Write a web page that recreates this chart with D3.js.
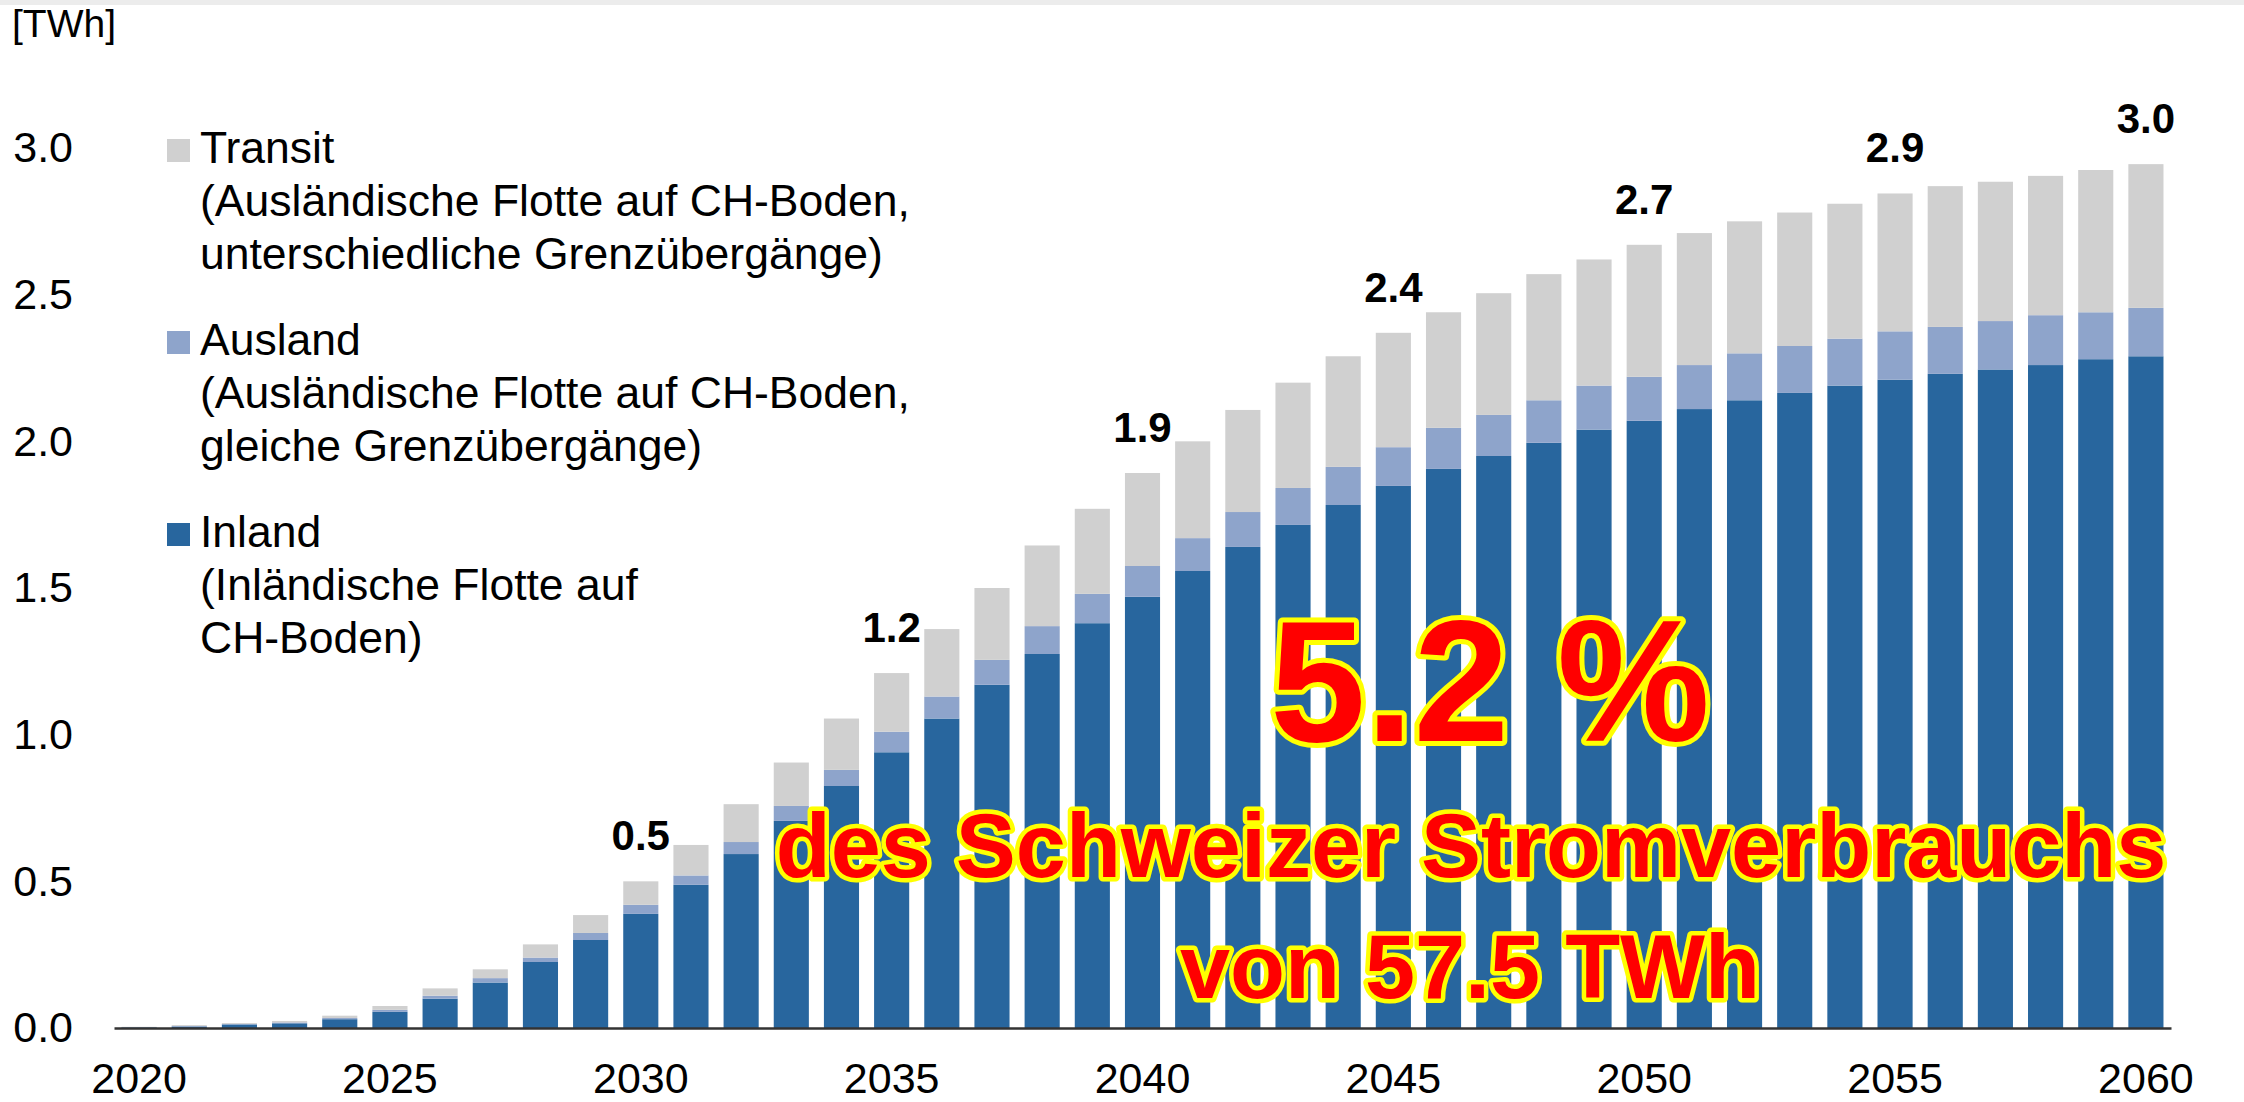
<html>
  <head>
    <meta charset="utf-8" />
    <script src="https://d3js.org/d3.v7.min.js"></script>
  </head>
  <style>
    body {
      margin: 0;
      background: #ffffff;
    }
    svg {
      display: block;
      font-family: "Liberation Sans", Arial, sans-serif;
    }
    .axis path.domain {
      stroke: #333333;
      stroke-width: 2.5;
    }
    .axis text {
      font-size: 43px;
      fill: #000000;
    }
    .big {
      fill: #ff0000;
      stroke: #ffff00;
      stroke-linejoin: round;
      paint-order: stroke;
      font-weight: bold;
      text-anchor: middle;
    }
  </style>
  <body>
    <svg id="chart" width="2244" height="1102"></svg>
    <script>
      // Werte in TWh
      const years = d3.range(2020, 2061);
      const inland = [
        0.002, 0.005, 0.012, 0.016, 0.03, 0.055, 0.1, 0.155, 0.225, 0.3,
        0.389, 0.488, 0.593, 0.706, 0.825, 0.94, 1.055, 1.17, 1.275, 1.38,
        1.47, 1.558, 1.64, 1.715, 1.783, 1.848, 1.906, 1.95, 1.995, 2.04,
        2.07, 2.11, 2.14, 2.165, 2.19, 2.21, 2.23, 2.245, 2.26, 2.28, 2.29
      ];
      const ausland = [
        0.001, 0.002, 0.002, 0.003, 0.004, 0.007, 0.01, 0.015, 0.015, 0.024,
        0.031, 0.032, 0.041, 0.051, 0.055, 0.07, 0.075, 0.085, 0.095, 0.1,
        0.105, 0.112, 0.119, 0.126, 0.13, 0.132, 0.14, 0.14, 0.145, 0.15,
        0.15, 0.15, 0.16, 0.16, 0.16, 0.165, 0.16, 0.165, 0.17, 0.16, 0.165
      ];
      const transit = [
        0.001, 0.003, 0.003, 0.005, 0.008, 0.013, 0.025, 0.03, 0.045, 0.061,
        0.08, 0.104, 0.129, 0.148, 0.175, 0.2, 0.23, 0.245, 0.275, 0.29,
        0.317, 0.33, 0.348, 0.359, 0.377, 0.39, 0.394, 0.415, 0.43, 0.43,
        0.45, 0.45, 0.45, 0.455, 0.46, 0.47, 0.48, 0.475, 0.475, 0.485, 0.49
      ];
      const seriesKeys = ["inland", "ausland", "transit"];
      const seriesColors = ["#28669e", "#8ea4cb", "#d0d0d0"];
      const labelYears = [2030, 2035, 2040, 2045, 2050, 2055, 2060];
      const labelTexts = ["0.5", "1.2", "1.9", "2.4", "2.7", "2.9", "3.0"];
      const xTicks = [2020, 2025, 2030, 2035, 2040, 2045, 2050, 2055, 2060];
      const yTicks = [0, 0.5, 1, 1.5, 2, 2.5, 3];
      const legendItems = [
        ["Transit", "(Ausländische Flotte auf CH-Boden,", "unterschiedliche Grenzübergänge)"],
        ["Ausland", "(Ausländische Flotte auf CH-Boden,", "gleiche Grenzübergänge)"],
        ["Inland", "(Inländische Flotte auf", "CH-Boden)"]
      ];
      const legendColors = ["#d0d0d0", "#8ea4cb", "#28669e"];

      const rows = years.map((y, i) => ({
        year: y,
        inland: inland[i],
        ausland: ausland[i],
        transit: transit[i]
      }));

      const svg = d3.select("#chart");

      // grauer Streifen oben
      svg.append("rect").attr("x", 0).attr("y", 0)
        .attr("width", 2244).attr("height", 5).attr("fill", "#ececec");

      const xScale = d3.scaleBand().domain(years).range([114, 2171])
        .paddingInner(0.3).paddingOuter(0.15);
      const yScale = d3.scaleLinear().domain([0, 3]).range([1028, 148]);

      // gestapelte Balken
      const stacked = d3.stack().keys(seriesKeys)(rows);
      svg.append("g")
        .selectAll("g")
        .data(stacked)
        .enter()
        .append("g")
        .attr("fill", (d, i) => seriesColors[i])
        .selectAll("rect")
        .data((d) => d)
        .enter()
        .append("rect")
        .attr("x", (d) => xScale(d.data.year))
        .attr("width", xScale.bandwidth())
        .attr("y", (d) => yScale(d[1]))
        .attr("height", (d) => yScale(d[0]) - yScale(d[1]));

      // x-Achse
      const xAxis = d3.axisBottom(xScale).tickValues(xTicks)
        .tickSize(0).tickSizeOuter(0).tickPadding(34);
      svg.append("g").attr("class", "axis")
        .attr("transform", "translate(0,1028)")
        .call(xAxis);

      // y-Achse
      const yAxis = d3.axisLeft(yScale).tickValues(yTicks)
        .tickFormat(d3.format(".1f")).tickSize(0).tickPadding(7);
      svg.append("g").attr("class", "axis")
        .attr("transform", "translate(80,0)")
        .call(yAxis)
        .call((g) => g.select(".domain").remove());

      svg.append("text").attr("x", 12).attr("y", 37)
        .style("font-size", "39px").text("[TWh]");

      // Summenbeschriftungen
      const totalOf = (yr) => {
        const i = years.indexOf(yr);
        return inland[i] + ausland[i] + transit[i];
      };
      svg.append("g")
        .selectAll("text")
        .data(labelYears)
        .enter()
        .append("text")
        .attr("x", (d) => xScale(d) + xScale.bandwidth() / 2)
        .attr("y", (d) => yScale(totalOf(d)) - 31)
        .attr("text-anchor", "middle")
        .style("font-size", "42px")
        .style("font-weight", "bold")
        .text((d, i) => labelTexts[i]);

      // Legende
      const legend = svg.append("g");
      legendItems.forEach((lines, i) => {
        const base = 163 + i * 192;
        legend.append("rect")
          .attr("x", 167).attr("y", base - 24)
          .attr("width", 23).attr("height", 23)
          .attr("fill", legendColors[i]);
        lines.forEach((t, j) => {
          legend.append("text")
            .attr("x", 200).attr("y", base + j * 53)
            .style("font-size", "44.5px")
            .text(t);
        });
      });

      // Hinweis
      svg.append("text").attr("class", "big")
        .attr("x", 1490).attr("y", 741)
        .style("font-size", "172px").attr("stroke-width", 10)
        .text("5.2 %");
      svg.append("text").attr("class", "big")
        .attr("x", 1471).attr("y", 877)
        .style("font-size", "90px").attr("stroke-width", 9)
        .text("des Schweizer Stromverbrauchs");
      svg.append("text").attr("class", "big")
        .attr("x", 1470).attr("y", 998)
        .style("font-size", "90px").attr("stroke-width", 9)
        .text("von 57.5 TWh");
    </script>
  </body>
</html>
